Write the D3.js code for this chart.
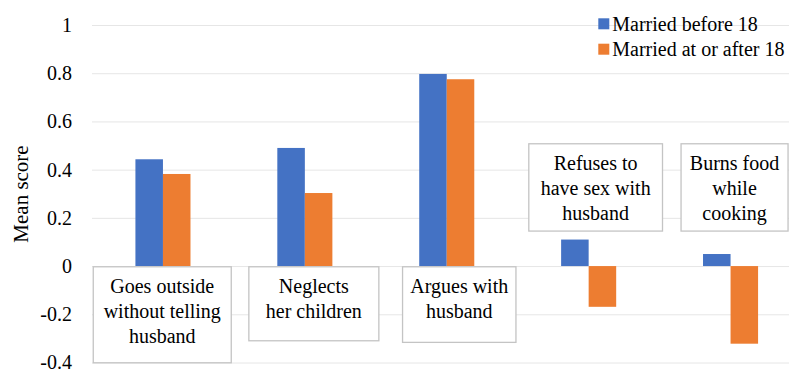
<!DOCTYPE html>
<html>
<head>
<meta charset="utf-8">
<script src="https://cdn.jsdelivr.net/npm/d3@7"></script>
</head>
<body style="margin:0;background:#fff">
<svg id="chart" width="789" height="369" style="display:block"></svg>
<script>
// ---- Data ----
const categories = [
  "Goes outside without telling husband",
  "Neglects her children",
  "Argues with husband",
  "Refuses to have sex with husband",
  "Burns food while cooking"
];
const categoryLines = [
  ["Goes outside", "without telling", "husband"],
  ["Neglects", "her children"],
  ["Argues with", "husband"],
  ["Refuses to", "have sex with", "husband"],
  ["Burns food", "while", "cooking"]
];
const seriesNames = ["Married before 18", "Married at or after 18"];
const marriedBefore18 = [0.443, 0.49, 0.797, 0.11, 0.05];
const marriedAfter18 = [0.382, 0.303, 0.775, -0.169, -0.322];
const tickValues = [-0.4, -0.2, 0, 0.2, 0.4, 0.6, 0.8, 1];
const tickLabels = ["-0.4", "-0.2", "0", "0.2", "0.4", "0.6", "0.8", "1"];
const colors = ["#4472C4", "#ED7D31"];

const FONT = "Liberation Serif";

// ---- Layout (label box tweaks: horizontal offset, width, height) ----
const labelBoxLayout = [
  { dx: -0.7, w: 138, h: 96 },
  { dx: 9, w: 130, h: 74 },
  { dx: 12.5, w: 113.4, h: 75.6 },
  { dx: 7, w: 133.7, h: 87.3 },
  { dx: 4, w: 107, h: 87.3 }
];

const svg = d3.select("#chart");
const plotLeft = 92, plotRight = 801.5, plotTop = 25, plotBottom = 362.5;

const x0 = d3.scaleBand().domain(categories).range([plotLeft, plotRight])
  .paddingInner(0.612).paddingOuter(0.306);
const x1 = d3.scaleBand().domain(seriesNames).range([0, x0.bandwidth()]);
const y = d3.scaleLinear().domain([-0.4, 1]).range([plotBottom, plotTop]);
const color = d3.scaleOrdinal().domain(seriesNames).range(colors);

// Gridlines + tick labels
const yAxis = d3.axisLeft(y).tickValues(tickValues)
  .tickFormat((d, i) => tickLabels[i])
  .tickSize(-(plotRight - plotLeft)).tickPadding(20);
const gy = svg.append("g").attr("transform", `translate(${plotLeft},0)`).call(yAxis)
  .attr("font-family", FONT).attr("font-size", 20);
gy.select(".domain").remove();
gy.selectAll(".tick line").attr("stroke", "#e6e6e6").attr("stroke-width", 1);
gy.selectAll(".tick text").attr("fill", "#000");

// Bars
const data = categories.map((c, i) => ({
  cat: c,
  values: [
    { s: seriesNames[0], v: marriedBefore18[i] },
    { s: seriesNames[1], v: marriedAfter18[i] }
  ]
}));
const groups = svg.append("g").selectAll("g").data(data).join("g")
  .attr("transform", d => `translate(${x0(d.cat)},0)`);
groups.selectAll("rect").data(d => d.values).join("rect")
  .attr("x", d => x1(d.s))
  .attr("width", x1.bandwidth())
  .attr("y", d => y(Math.max(0, d.v)))
  .attr("height", d => Math.abs(y(d.v) - y(0)))
  .attr("fill", d => color(d.s));

// Category label boxes
const lab = svg.append("g");
categories.forEach((c, i) => {
  const L = labelBoxLayout[i];
  const cx = x0(c) + x0.bandwidth() / 2 + L.dx;
  const allPos = marriedBefore18[i] >= 0 && marriedAfter18[i] >= 0;
  const top = allPos ? y(0) + 0.7 : y(0) - 35 - L.h;
  lab.append("rect")
    .attr("x", cx - L.w / 2).attr("y", top)
    .attr("width", L.w).attr("height", L.h)
    .attr("fill", "#fff").attr("stroke", "#c4c4c4").attr("stroke-width", 1.3);
  const t = lab.append("text").attr("text-anchor", "middle")
    .attr("font-family", FONT).attr("font-size", 20);
  categoryLines[i].forEach((line, j) => {
    t.append("tspan").attr("x", cx).attr("y", top + 19.5 + j * 25)
      .attr("dy", "0.35em").text(line);
  });
});

// Y axis title
svg.append("text")
  .attr("transform", `translate(${28},${194}) rotate(-90)`)
  .attr("text-anchor", "middle")
  .attr("font-family", FONT).attr("font-size", 21)
  .text("Mean score");

// Legend
const leg = svg.append("g").attr("transform", "translate(598.3,18.3)");
seriesNames.forEach((s, i) => {
  const g = leg.append("g").attr("transform", `translate(0,${i * 25.4})`);
  g.append("rect").attr("width", 11).attr("height", 11).attr("fill", color(s));
  g.append("text").attr("x", 14).attr("y", 5.5).attr("dy", "0.36em")
    .attr("font-family", FONT).attr("font-size", 20).text(s);
});
</script>
</body>
</html>
